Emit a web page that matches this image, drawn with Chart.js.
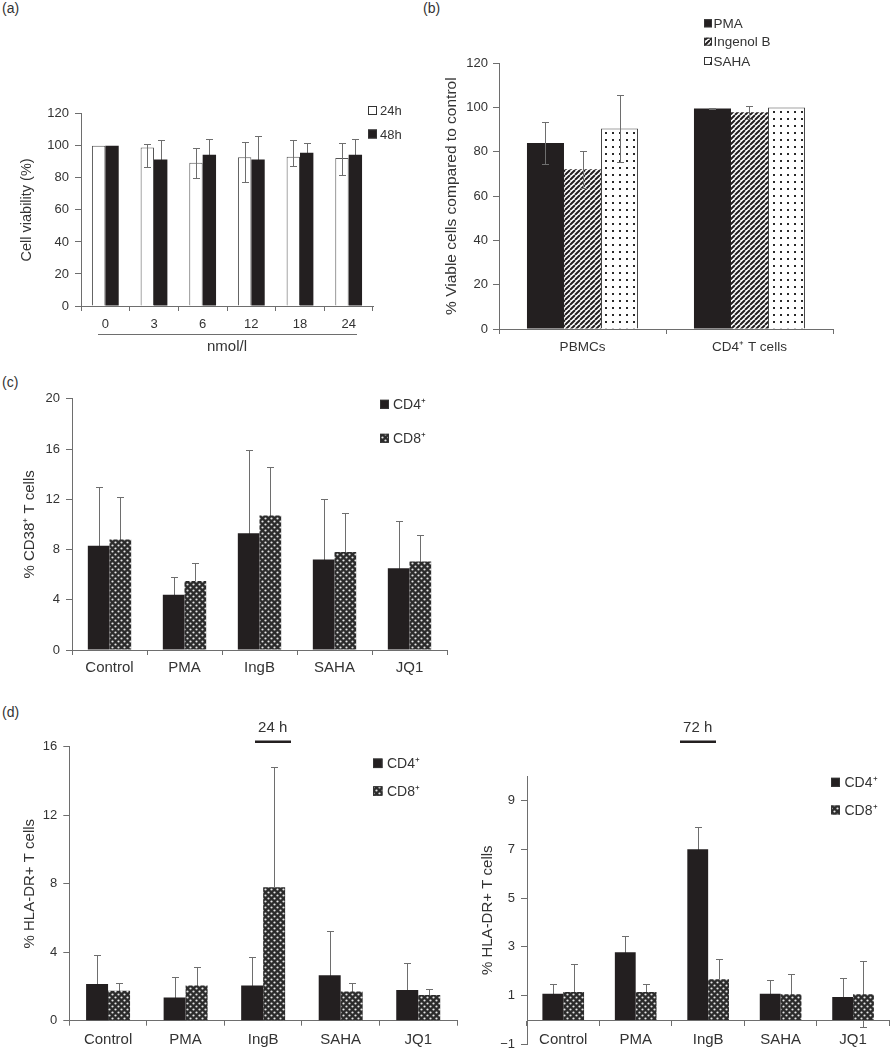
<!DOCTYPE html>
<html>
<head>
<meta charset="utf-8">
<script src="https://cdn.jsdelivr.net/npm/chart.js@4.4.0/dist/chart.umd.min.js"></script>
<style>
  body { margin: 0; background: #fff; width: 890px; height: 1050px; position: relative; overflow: hidden;
         font-family: 'Liberation Sans', Arial, Helvetica, sans-serif; }
  canvas { position: absolute; }
  .tag { position: absolute; font-size: 14px; color: #333; }
</style>
</head>
<body>
<div class="tag" style="left:2px; top:0px">(a)</div>
<div class="tag" style="left:423px; top:0px">(b)</div>
<div class="tag" style="left:2px; top:374px">(c)</div>
<div class="tag" style="left:2px; top:704px">(d)</div>
<canvas id="chartA"></canvas>
<canvas id="chartB"></canvas>
<canvas id="chartC"></canvas>
<canvas id="chartD1"></canvas>
<canvas id="chartD2"></canvas>
<script>
// ---- data ----
// (a) cell viability vs dose
const doseLabels = ['0', '3', '6', '12', '18', '24'];
const via24 = [100, 99, 89.5, 92.8, 93.2, 92.4];
const via24Up = [0, 2, 9.3, 9.4, 10.3, 9.5];
const via24Down = [0, 12, 9.7, 15.1, 5.8, 10.6];
const via48 = [100, 91.5, 94.4, 91.5, 95.7, 94.4];
const via48Err = [0, 12.4, 9.9, 14.7, 6.2, 9.9];
const pctTicks = [0, 20, 40, 60, 80, 100, 120];

// (b) viable cells compared to control
const cellLabels = ['PBMCs', 'CD4\u207A T cells'];
const pmaVia = [84, 99.6];
const pmaViaErr = [9.5, 0.3];
const ingVia = [72.2, 97.9];
const ingViaErr = [8.4, 3];
const sahaVia = [90.5, 100];
const sahaViaErr = [15, 0];

// (c) CD38+ T cells
const drugLabels = ['Control', 'PMA', 'IngB', 'SAHA', 'JQ1'];
const cd38CD4 = [8.3, 4.4, 9.3, 7.2, 6.5];
const cd38CD4Err = [4.7, 1.4, 6.65, 4.85, 3.8];
const cd38CD8 = [8.8, 5.5, 10.7, 7.8, 7.05];
const cd38CD8Err = [3.35, 1.45, 3.9, 3.1, 2.1];
const cd38Ticks = [0, 4, 8, 12, 16, 20];

// (d) HLA-DR+ T cells, 24 h and 72 h
const hla24CD4 = [2.15, 1.35, 2.05, 2.65, 1.8];
const hla24CD4Err = [1.7, 1.2, 1.65, 2.6, 1.55];
const hla24CD8 = [1.75, 2.05, 7.8, 1.7, 1.5];
const hla24CD8Err = [0.45, 1.1, 7.0, 0.5, 0.35];
const hla24Ticks = [0, 4, 8, 12, 16];

const hla72CD4 = [1.08, 2.78, 7.0, 1.08, 0.95];
const hla72CD4Err = [0.4, 0.68, 0.93, 0.58, 0.76];
const hla72CD8 = [1.15, 1.15, 1.67, 1.06, 1.06];
const hla72CD8Err = [1.14, 0.32, 0.82, 0.84, 1.36];
const hla72Ticks = [-1, 1, 3, 5, 7, 9];

// ---- styling ----
const FONT = "'Liberation Sans', Arial, Helvetica, sans-serif";
Chart.defaults.font.family = FONT;
Chart.defaults.color = '#333';
const BLACK = '#231f20';
const AXIS = '#6e6e6e';

function pattern(size, paint) {
  const c = document.createElement('canvas');
  c.width = size; c.height = size;
  const g = c.getContext('2d');
  paint(g, size);
  return g.createPattern(c, 'repeat');
}

const hatch = pattern(5, (g, s) => {
  g.fillStyle = '#fff'; g.fillRect(0, 0, s, s);
  g.strokeStyle = BLACK; g.lineWidth = 2;
  g.beginPath();
  for (let k = -1; k <= 1; k++) { g.moveTo(k * s, s); g.lineTo(k * s + s, 0); }
  g.stroke();
});

const dots = pattern(7, (g, s) => {
  g.fillStyle = '#fff'; g.fillRect(0, 0, s, s);
  g.fillStyle = '#2a2a2a'; g.fillRect(3, 3, 2, 2);
});

const check = pattern(6, (g, s) => {
  g.fillStyle = '#2b2b2b'; g.fillRect(0, 0, s, s);
  g.fillStyle = '#e6e6e6';
  [[1.5, 1.5], [4.5, 4.5]].forEach(([x, y]) => {
    g.beginPath(); g.arc(x, y, 1.1, 0, Math.PI * 2); g.fill();
  });
});

// error bars: drawn behind the bars unless errOnTop is set on the dataset
function drawErrors(chart, onTop) {
  const ctx = chart.ctx;
  const ys = chart.scales.y;
  ctx.save();
  ctx.strokeStyle = AXIS;
  ctx.lineWidth = 1;
  chart.data.datasets.forEach((ds, i) => {
    if (!ds.errUp || !!ds.errOnTop !== onTop) return;
    const meta = chart.getDatasetMeta(i);
    meta.data.forEach((bar, j) => {
      const up = ds.errUp[j];
      const down = ds.errDown ? ds.errDown[j] : up;
      if (!up && !down) return;
      const v = ds.data[j];
      const x = Math.round(bar.x) + 0.5;
      const yTop = Math.round(ys.getPixelForValue(v + up)) + 0.5;
      const yBot = Math.round(ys.getPixelForValue(v - down)) + 0.5;
      ctx.beginPath();
      ctx.moveTo(x, yTop); ctx.lineTo(x, yBot);
      if (up) { ctx.moveTo(x - 3.5, yTop); ctx.lineTo(x + 3.5, yTop); }
      if (down) { ctx.moveTo(x - 3.5, yBot); ctx.lineTo(x + 3.5, yBot); }
      ctx.stroke();
    });
  });
  ctx.restore();
}

const errorBars = {
  id: 'errorBars',
  beforeDatasetsDraw(chart) { drawErrors(chart, false); },
  afterDatasetsDraw(chart) { drawErrors(chart, true); }
};

// legend boxes, time captions and the dose underline
const decor = {
  id: 'decor',
  afterDraw(chart, args, o) {
    const ctx = chart.ctx;
    const fx = o.frame.left, fy = o.frame.top;
    ctx.save();
    ctx.textBaseline = 'middle';
    if (o.legend) {
      const L = o.legend;
      chart.data.datasets.forEach((ds, i) => {
        const x = L.x - fx, y = L.y[i] - fy;
        ctx.fillStyle = ds.backgroundColor;
        ctx.fillRect(x, y - L.box / 2, L.box, L.box);
        ctx.strokeStyle = '#333'; ctx.lineWidth = 1;
        ctx.strokeRect(x + 0.5, y - L.box / 2 + 0.5, L.box - 1, L.box - 1);
        ctx.fillStyle = '#333';
        ctx.font = L.font + 'px ' + FONT;
        ctx.textAlign = 'left';
        ctx.fillText(ds.label, x + L.box + L.gap, y + 1);
      });
    }
    const caption = o.period || o.unit;
    if (caption) {
      ctx.fillStyle = '#333';
      ctx.font = caption.font + 'px ' + FONT;
      ctx.textAlign = 'center';
      ctx.fillText(caption.text, caption.x - fx, caption.y - fy);
      ctx.strokeStyle = o.period ? BLACK : AXIS;
      ctx.lineWidth = caption.lw;
      ctx.beginPath();
      ctx.moveTo(caption.x0 - fx, caption.ly - fy);
      ctx.lineTo(caption.x1 - fx, caption.ly - fy);
      ctx.stroke();
    }
    ctx.restore();
  }
};

function barChart(id, frame, plot, cfg) {
  const canvas = document.getElementById(id);
  canvas.width = frame.width; canvas.height = frame.height;
  canvas.style.left = frame.left + 'px';
  canvas.style.top = frame.top + 'px';
  const yW = plot.left - frame.left;
  const padTop = plot.top - frame.top;
  const padRight = frame.left + frame.width - plot.right;
  const xH = frame.top + frame.height - plot.bottom;
  const floatingX = !!cfg.xAtZero;

  return new Chart(canvas, {
    type: 'bar',
    data: { labels: cfg.labels, datasets: cfg.datasets },
    plugins: [errorBars, decor],
    options: {
      responsive: false,
      animation: false,
      devicePixelRatio: 1,
      layout: { padding: { left: 0, top: padTop, right: padRight, bottom: floatingX ? xH : 0 } },
      datasets: { bar: { categoryPercentage: cfg.groupWidth, barPercentage: 1 } },
      plugins: {
        legend: { display: false },
        tooltip: { enabled: false },
        decor: Object.assign({ frame: frame }, cfg.decor)
      },
      scales: {
        x: {
          position: floatingX ? { y: 0 } : 'bottom',
          grid: { drawOnChartArea: false, tickLength: 5, color: AXIS, offset: true },
          border: { color: AXIS },
          ticks: { font: { size: cfg.xFont }, padding: cfg.xPad, color: '#333', maxRotation: 0, autoSkip: false },
          afterFit: s => { if (!floatingX) s.height = xH; }
        },
        y: {
          min: cfg.yMin,
          max: cfg.yMax,
          afterBuildTicks: s => { s.ticks = cfg.yTicks.map(v => ({ value: v })); },
          afterFit: s => { s.width = yW; },
          grid: { drawOnChartArea: false, tickLength: 6, color: AXIS },
          border: { color: AXIS },
          ticks: { font: { size: 13 }, padding: cfg.yPad, color: '#333',
                   callback: v => String(v).replace('-', '\u2212') },
          title: { display: true, text: cfg.yTitle, color: '#333',
                   font: { size: cfg.titleSize }, padding: { top: cfg.titlePad, bottom: 0 } }
        }
      }
    }
  });
}

// (a)
barChart('chartA', { left: 0, top: 100, width: 405, height: 260 },
  { left: 81, top: 110, right: 373, bottom: 306 }, {
  labels: doseLabels,
  datasets: [
    { label: '24h', data: via24, errUp: via24Up, errDown: via24Down, errOnTop: true,
      backgroundColor: '#fff', borderColor: '#555', borderWidth: 1 },
    { label: '48h', data: via48, errUp: via48Err, backgroundColor: BLACK, borderWidth: 0 }
  ],
  groupWidth: 0.55, yMin: 0, yMax: 120, yTicks: pctTicks,
  yTitle: 'Cell viability (%)', titleSize: 14.5, titlePad: 18,
  xFont: 13, xPad: 6, yPad: 6,
  decor: {
    legend: { x: 368, y: [110.5, 134], box: 9, gap: 3, font: 13 },
    unit: { text: 'nmol/l', font: 15, x: 227, y: 347, x0: 98, x1: 357, ly: 334.5, lw: 1 }
  }
});

// (b)
barChart('chartB', { left: 420, top: 10, width: 470, height: 350 },
  { left: 499, top: 63.3, right: 833, bottom: 329 }, {
  labels: cellLabels,
  datasets: [
    { label: 'PMA', data: pmaVia, errUp: pmaViaErr, errOnTop: true, backgroundColor: BLACK, borderWidth: 0 },
    { label: 'Ingenol B', data: ingVia, errUp: ingViaErr, errOnTop: true, backgroundColor: hatch, borderWidth: 0 },
    { label: 'SAHA', data: sahaVia, errUp: sahaViaErr, errOnTop: true, backgroundColor: dots,
      borderColor: '#444', borderWidth: 1 }
  ],
  groupWidth: 0.665, yMin: 0, yMax: 120, yTicks: pctTicks,
  yTitle: '% Viable cells compared to control', titleSize: 15.5, titlePad: 22,
  xFont: 13.5, xPad: 5, yPad: 5,
  decor: { legend: { x: 704, y: [23.3, 41.7, 61], box: 8, gap: 1.5, font: 13.5 } }
});

// (c)
barChart('chartC', { left: 0, top: 385, width: 450, height: 300 },
  { left: 72, top: 398.3, right: 447, bottom: 650 }, {
  labels: drugLabels,
  datasets: [
    { label: 'CD4\u207A', data: cd38CD4, errUp: cd38CD4Err, backgroundColor: BLACK, borderWidth: 0 },
    { label: 'CD8\u207A', data: cd38CD8, errUp: cd38CD8Err, backgroundColor: check, borderWidth: 0 }
  ],
  groupWidth: 0.578, yMin: 0, yMax: 20, yTicks: cd38Ticks,
  yTitle: '% CD38\u207A T cells', titleSize: 15, titlePad: 21,
  xFont: 15, xPad: 4, yPad: 6,
  decor: { legend: { x: 380, y: [404.3, 438.3], box: 9, gap: 4, font: 14 } }
});

// (d) 24 h
barChart('chartD1', { left: 0, top: 720, width: 460, height: 330 },
  { left: 69.3, top: 746.7, right: 457, bottom: 1020.7 }, {
  labels: drugLabels,
  datasets: [
    { label: 'CD4\u207A', data: hla24CD4, errUp: hla24CD4Err, backgroundColor: BLACK, borderWidth: 0 },
    { label: 'CD8\u207A', data: hla24CD8, errUp: hla24CD8Err, backgroundColor: check, borderWidth: 0 }
  ],
  groupWidth: 0.567, yMin: 0, yMax: 16, yTicks: hla24Ticks,
  yTitle: '% HLA-DR+ T cells', titleSize: 15, titlePad: 21,
  xFont: 15, xPad: 5, yPad: 6,
  decor: {
    legend: { x: 373, y: [763.3, 791], box: 9.5, gap: 4.5, font: 14 },
    period: { text: '24 h', font: 15, x: 272.7, y: 728.3, x0: 255, x1: 291, ly: 741.7, lw: 2.5 }
  }
});

// (d) 72 h
barChart('chartD2', { left: 455, top: 720, width: 435, height: 340 },
  { left: 527, top: 776, right: 889.3, bottom: 1044.5 }, {
  labels: drugLabels,
  xAtZero: true,
  datasets: [
    { label: 'CD4\u207A', data: hla72CD4, errUp: hla72CD4Err, backgroundColor: BLACK, borderWidth: 0 },
    { label: 'CD8\u207A', data: hla72CD8, errUp: hla72CD8Err, backgroundColor: check, borderWidth: 0 }
  ],
  groupWidth: 0.575, yMin: -1, yMax: 10, yTicks: hla72Ticks,
  yTitle: '% HLA-DR+ T cells', titleSize: 15, titlePad: 24,
  xFont: 15, xPad: 6, yPad: 6,
  decor: {
    legend: { x: 831, y: [782.3, 810], box: 9, gap: 4.5, font: 14 },
    period: { text: '72 h', font: 15, x: 697.7, y: 728.3, x0: 680, x1: 716, ly: 741.7, lw: 2.5 }
  }
});
</script>
</body>
</html>
